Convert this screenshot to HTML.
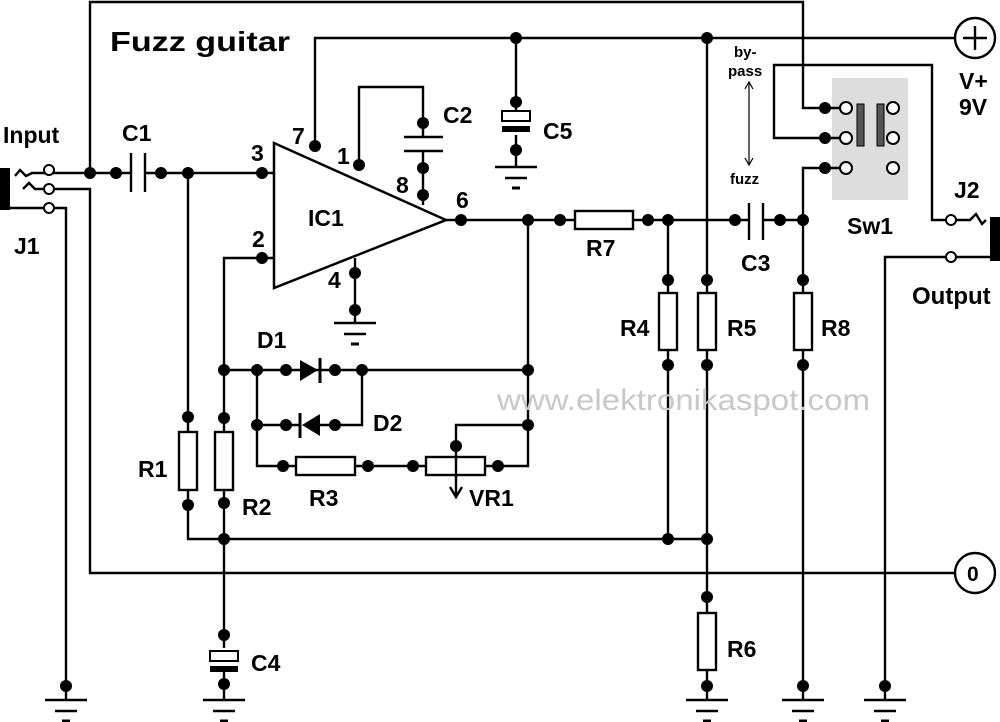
<!DOCTYPE html>
<html><head><meta charset="utf-8"><style>
body{margin:0;background:#fff}
svg{display:block}
text{font-family:"Liberation Sans",Arial,sans-serif;font-weight:bold;fill:#000}
</style></head><body>
<svg width="1000" height="722" viewBox="0 0 1000 722" xmlns="http://www.w3.org/2000/svg">
<defs>
<g id="gnd"><line x1="-21" y1="0" x2="21" y2="0" stroke="#000" stroke-width="2.5"/><line x1="-11" y1="11" x2="11" y2="11" stroke="#000" stroke-width="2.5"/><line x1="-4" y1="21" x2="4" y2="21" stroke="#000" stroke-width="3"/></g>
</defs>
<rect x="832" y="78" width="76" height="122" fill="#ddd"/>
<g stroke="#000" stroke-width="2.4" fill="none">
<polyline points="90,173 90,2 803,2 803,108 825,108"/>
<polyline points="49,189 90,189 90,573 955,573"/>
<polyline points="49,208 66,208 66,700"/>
<line x1="49" y1="173" x2="131" y2="173"/>
<line x1="145" y1="173" x2="273" y2="173"/>
<line x1="131" y1="153" x2="131" y2="192"/><line x1="145" y1="153" x2="145" y2="192"/>
<polyline points="315,146 315,38 955,38"/>
<line x1="516" y1="38" x2="516" y2="118"/>
<line x1="516" y1="135" x2="516" y2="167"/>
<polyline points="359,165 359,87 423,87 423,137"/>
<line x1="423" y1="151" x2="423" y2="205"/>
<line x1="404" y1="137" x2="443" y2="137"/><line x1="404" y1="151" x2="443" y2="151"/>
<line x1="355" y1="258" x2="355" y2="323"/>
<polygon points="274,143 274,288 446,220" stroke-width="2.5"/>
<line x1="446" y1="220" x2="575" y2="220"/>
<line x1="633" y1="220" x2="749" y2="220"/>
<line x1="763" y1="220" x2="803" y2="220"/>
<line x1="749" y1="203" x2="749" y2="240"/><line x1="763" y1="203" x2="763" y2="240"/>
<rect x="575" y="211" width="58" height="18"/>
<polyline points="273,258 224,258 224,432"/>
<line x1="224" y1="490" x2="224" y2="648"/>
<line x1="224" y1="668" x2="224" y2="700"/>
<rect x="215" y="432" width="18" height="58"/>
<line x1="188" y1="173" x2="188" y2="432"/>
<polyline points="188,490 188,539 707,539"/>
<rect x="179" y="432" width="18" height="58"/>
<line x1="224" y1="370" x2="528" y2="370"/>
<polyline points="257,370 257,466 296,466"/>
<line x1="257" y1="425" x2="300" y2="425"/>
<polyline points="320,425 362,425 362,370"/>
<rect x="296" y="457" width="59" height="18"/>
<line x1="355" y1="466" x2="426" y2="466"/>
<rect x="426" y="457" width="59" height="18"/>
<polyline points="485,466 528,466 528,220"/>
<polyline points="528,425 456,425 456,496"/>
<polyline points="450,487 456,497 462,487"/>
<line x1="668" y1="220" x2="668" y2="293"/><line x1="668" y1="350" x2="668" y2="539"/>
<rect x="659" y="293" width="18" height="57"/>
<line x1="707" y1="38" x2="707" y2="293"/><line x1="707" y1="350" x2="707" y2="613"/>
<rect x="698" y="293" width="18" height="57"/>
<line x1="707" y1="670" x2="707" y2="700"/>
<rect x="698" y="613" width="18" height="57"/>
<polyline points="846,168 803,168 803,293"/>
<line x1="803" y1="350" x2="803" y2="700"/>
<rect x="794" y="293" width="18" height="57"/>
<line x1="825" y1="108" x2="846" y2="108"/>
<polyline points="846,138 774,138 774,65 932,65 932,220 951,220"/>
<polyline points="955,220 970,220 976,214 982,224 986,220"/>
<polyline points="951,257 885,257 885,700"/>
<line x1="951" y1="257" x2="990" y2="257"/>
<polyline points="15,176 20,170 26,176 32,173 49,173"/>
<polyline points="23,189 29,183 35,189 49,189"/>
<line x1="10" y1="208" x2="49" y2="208"/>
<circle cx="975" cy="38" r="20" fill="#fff"/>
<line x1="963" y1="38" x2="987" y2="38"/><line x1="975" y1="26" x2="975" y2="50"/>
<circle cx="975" cy="573" r="20" fill="#fff"/>
<line x1="749" y1="82" x2="749" y2="165" stroke-width="1.2"/>
<polyline points="745,89 749,82 753,89" stroke-width="1.2"/>
<polyline points="745,158 749,165 753,158" stroke-width="1.2"/>
</g>
<rect x="502" y="111" width="28" height="10" fill="#fff" stroke="#000" stroke-width="2"/>
<rect x="502" y="126" width="28" height="6" fill="#000"/>
<rect x="210" y="651" width="28" height="10" fill="#fff" stroke="#000" stroke-width="2"/>
<rect x="210" y="666" width="28" height="6" fill="#000"/>
<polygon points="300,360 300,381 318,370" fill="#000"/><line x1="320" y1="358" x2="320" y2="383" stroke="#000" stroke-width="3"/>
<polygon points="320,414 320,436 302,425" fill="#000"/><line x1="300" y1="413" x2="300" y2="438" stroke="#000" stroke-width="3"/>
<rect x="0" y="168" width="10" height="42" fill="#000"/>
<rect x="990" y="217" width="10" height="44" fill="#000"/>
<rect x="857" y="104" width="7" height="42" fill="#555" stroke="#000"/>
<rect x="877" y="104" width="7" height="42" fill="#555" stroke="#000"/>
<g fill="#fff" stroke="#000" stroke-width="2">
<circle cx="846" cy="108" r="6"/><circle cx="846" cy="138" r="6"/><circle cx="846" cy="168" r="6"/>
<circle cx="893" cy="108" r="6"/><circle cx="893" cy="138" r="6"/><circle cx="893" cy="168" r="6"/>
<circle cx="49" cy="170" r="5"/><circle cx="49" cy="189" r="5"/><circle cx="49" cy="208" r="5"/>
<circle cx="951" cy="220" r="5"/><circle cx="951" cy="257" r="5"/>
</g>
<use href="#gnd" x="66" y="700"/><use href="#gnd" x="224" y="700"/><use href="#gnd" x="355" y="323"/>
<use href="#gnd" x="516" y="167"/><use href="#gnd" x="707" y="700"/><use href="#gnd" x="803" y="700"/><use href="#gnd" x="885" y="700"/>
<g fill="#000">
<circle cx="90" cy="173" r="6"/><circle cx="116" cy="173" r="6"/><circle cx="161" cy="173" r="6"/><circle cx="188" cy="173" r="6"/><circle cx="262" cy="173" r="6"/>
<circle cx="262" cy="258" r="6"/><circle cx="315" cy="146" r="6"/><circle cx="359" cy="165" r="6"/><circle cx="423" cy="123" r="6"/><circle cx="423" cy="168" r="6"/><circle cx="423" cy="195" r="6"/>
<circle cx="355" cy="273" r="6"/><circle cx="355" cy="310" r="6"/><circle cx="461" cy="220" r="6"/><circle cx="528" cy="220" r="6"/><circle cx="560" cy="220" r="6"/>
<circle cx="648" cy="220" r="6"/><circle cx="668" cy="220" r="6"/><circle cx="735" cy="220" r="6"/><circle cx="780" cy="220" r="6"/><circle cx="803" cy="220" r="6"/>
<circle cx="516" cy="38" r="6"/><circle cx="707" cy="38" r="6"/><circle cx="516" cy="102" r="6"/><circle cx="516" cy="150" r="6"/>
<circle cx="825" cy="108" r="6"/><circle cx="825" cy="138" r="6"/><circle cx="825" cy="168" r="6"/>
<circle cx="668" cy="280" r="6"/><circle cx="668" cy="365" r="6"/><circle cx="707" cy="280" r="6"/><circle cx="707" cy="365" r="6"/><circle cx="803" cy="280" r="6"/><circle cx="803" cy="365" r="6"/>
<circle cx="668" cy="539" r="6"/><circle cx="707" cy="539" r="6"/><circle cx="707" cy="597" r="6"/><circle cx="707" cy="686" r="6"/><circle cx="803" cy="686" r="6"/><circle cx="885" cy="686" r="6"/><circle cx="66" cy="686" r="6"/>
<circle cx="188" cy="417" r="6"/><circle cx="188" cy="505" r="6"/><circle cx="224" cy="418" r="6"/><circle cx="224" cy="503" r="6"/><circle cx="224" cy="539" r="6"/><circle cx="224" cy="635" r="6"/><circle cx="224" cy="684" r="6"/>
<circle cx="224" cy="370" r="6"/><circle cx="257" cy="370" r="6"/><circle cx="286" cy="370" r="6"/><circle cx="335" cy="370" r="6"/><circle cx="362" cy="370" r="6"/><circle cx="528" cy="370" r="6"/>
<circle cx="257" cy="425" r="6"/><circle cx="286" cy="425" r="6"/><circle cx="335" cy="425" r="6"/><circle cx="528" cy="425" r="6"/>
<circle cx="283" cy="466" r="6"/><circle cx="368" cy="466" r="6"/><circle cx="413" cy="466" r="6"/><circle cx="498" cy="466" r="6"/><circle cx="456" cy="446" r="6"/>
</g>
<text x="497" y="410" font-size="30" textLength="373" lengthAdjust="spacingAndGlyphs" style="fill:#c8c8c8;font-weight:normal">www.elektronikaspot.com</text>
<text x="110" y="51" font-size="28" textLength="180" lengthAdjust="spacingAndGlyphs">Fuzz guitar</text>
<g font-size="23">
<text x="3" y="143">Input</text><text x="14" y="254">J1</text><text x="122" y="141">C1</text>
<text x="251" y="161">3</text><text x="252" y="247">2</text><text x="292" y="144">7</text><text x="337" y="164">1</text><text x="396" y="193">8</text><text x="456" y="208">6</text><text x="328" y="288">4</text>
<text x="308" y="226">IC1</text><text x="443" y="123">C2</text><text x="543" y="139">C5</text>
<text x="586" y="256">R7</text><text x="741" y="271">C3</text><text x="620" y="336">R4</text><text x="727" y="336">R5</text><text x="821" y="336">R8</text>
<text x="847" y="234">Sw1</text><text x="954" y="198">J2</text><text x="912" y="304" font-size="24">Output</text><text x="959" y="89">V+</text><text x="959" y="115">9V</text>
<text x="257" y="348">D1</text><text x="373" y="431">D2</text><text x="138" y="477">R1</text><text x="242" y="515">R2</text><text x="309" y="506">R3</text><text x="469" y="506">VR1</text>
<text x="251" y="671">C4</text><text x="727" y="657">R6</text><text x="967" y="581" font-size="21">0</text>
</g>
<g font-size="15" style="font-weight:normal">
<text x="734" y="57">by-</text><text x="728" y="76">pass</text><text x="730" y="184">fuzz</text>
</g>
</svg>
</body></html>
